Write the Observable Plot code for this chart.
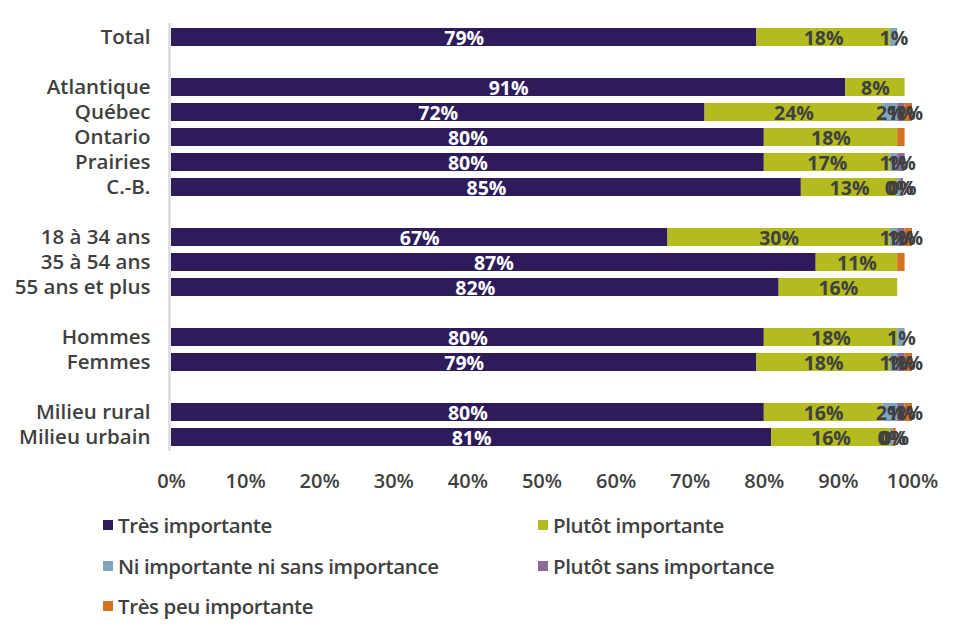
<!DOCTYPE html>
<html>
<head>
<meta charset="utf-8">
<script src="https://cdn.jsdelivr.net/npm/d3@7"></script>
<script src="https://cdn.jsdelivr.net/npm/@observablehq/plot@0.6"></script>
<style>
  body { margin: 0; background: #fff; font-family: "Open Sans", Lato, sans-serif; }
  #wrap { position: relative; width: 960px; height: 641px; }
  #legend { position: absolute; left: 103px; top: 511px; width: 850px; }
  .item { position: absolute; display: flex; align-items: center; font-size: 20.5px; font-weight: 600; color: #404040; white-space: nowrap; letter-spacing: -0.4px; }
  .sw { width: 10px; height: 10px; margin-right: 5px; }
</style>
</head>
<body>
<div id="wrap"><div id="chart"></div><div id="legend"></div></div>
<script>
// Row categories (blank strings are spacer rows)
const categories = ["Total", " ", "Atlantique", "Québec", "Ontario", "Prairies", "C.-B.", "  ",
  "18 à 34 ans", "35 à 54 ans", "55 ans et plus", "   ", "Hommes", "Femmes", "    ", "Milieu rural", "Milieu urbain"];
const series = ["Très importante", "Plutôt importante", "Ni importante ni sans importance", "Plutôt sans importance", "Très peu importante"];
const colors = ["#2D1B5C", "#B3BB1F", "#7FA5C0", "#8C6C97", "#D4721F"];

// Values per series, aligned with the non-blank categories
const rows = ["Total", "Atlantique", "Québec", "Ontario", "Prairies", "C.-B.", "18 à 34 ans", "35 à 54 ans", "55 ans et plus", "Hommes", "Femmes", "Milieu rural", "Milieu urbain"];
const tresImportante   = [79, 91, 72, 80, 80, 85, 67, 87, 82, 80, 79, 80, 81];
const plutotImportante = [18,  8, 24, 18, 17, 13, 30, 11, 16, 18, 18, 16, 16];
const niNi             = [ 1,  0,  2,  0,  1, 0.4, 1,  0,  0,  1,  1,  2, 0.4];
const plutotSans       = [ 0,  0,  1,  0,  1, 0.4, 1,  0,  0,  0,  1,  1,  0];
const tresPeu          = [ 0,  0,  1,  1,  0,  0,  1,  1,  0,  0,  1,  1, 0.4];
// Segments whose data label is not shown in the original
const hiddenLabels = [["Ontario", "Très peu importante"], ["35 à 54 ans", "Très peu importante"]];
const xTicks = [0, 10, 20, 30, 40, 50, 60, 70, 80, 90, 100];

const seriesValues = [tresImportante, plutotImportante, niNi, plutotSans, tresPeu];
const data = [];
rows.forEach((cat, i) => {
  series.forEach((s, j) => {
    data.push({cat, series: s, value: seriesValues[j][i]});
  });
});
const isHidden = d => hiddenLabels.some(([c, s]) => c === d.cat && s === d.series);
const labelText = d => (d.value > 0 && !isHidden(d)) ? Math.round(d.value) + "%" : "";

const chart = Plot.plot({
  width: 960,
  height: 501,
  marginLeft: 171,
  marginRight: 48,
  marginTop: 23,
  marginBottom: 50,
  style: {fontFamily: "'Open Sans', Lato, sans-serif", background: "#fff"},
  x: {domain: [0, 100], axis: null, label: null},
  y: {domain: categories, axis: null, label: null, paddingInner: 0.28, paddingOuter: 0.14},
  color: {domain: series, range: colors},
  marks: [
    Plot.barX(data, Plot.stackX({x: "value", y: "cat", fill: "series", order: series})),
    Plot.ruleX([0], {stroke: "#D9D9D9", strokeWidth: 2.5, dx: -2}),
    Plot.text(data, Plot.stackX({
      x: "value", y: "cat", order: series,
      text: labelText,
      fill: d => d.series === series[0] ? "#FFFFFF" : "#404040",
      fontSize: 19.5, fontWeight: "bold", dy: 1, letterSpacing: "-0.5px"
    })),
    Plot.axisY({tickSize: 0, tickPadding: 21, fontSize: 20.5, fontWeight: 600, color: "#404040", label: null,
      tickFormat: d => d.trim(), letterSpacing: "-0.4px"}),
    Plot.axisX(xTicks, {anchor: "bottom", tickSize: 0, tickPadding: 22, fontSize: 20, fontWeight: 600,
      color: "#404040", label: null, tickFormat: d => d + "%", letterSpacing: "-0.5px"})
  ]
});
document.getElementById("chart").appendChild(chart);

// Legend
const legendPos = [[0, 0], [435, 0], [0, 41], [435, 41], [0, 81]];
const legend = document.getElementById("legend");
series.forEach((s, i) => {
  const item = document.createElement("div");
  item.className = "item";
  item.style.left = legendPos[i][0] + "px";
  item.style.top = legendPos[i][1] + "px";
  const sw = document.createElement("span");
  sw.className = "sw";
  sw.style.background = colors[i];
  const t = document.createElement("span");
  t.textContent = s;
  item.appendChild(sw);
  item.appendChild(t);
  legend.appendChild(item);
});
</script>
</body>
</html>
